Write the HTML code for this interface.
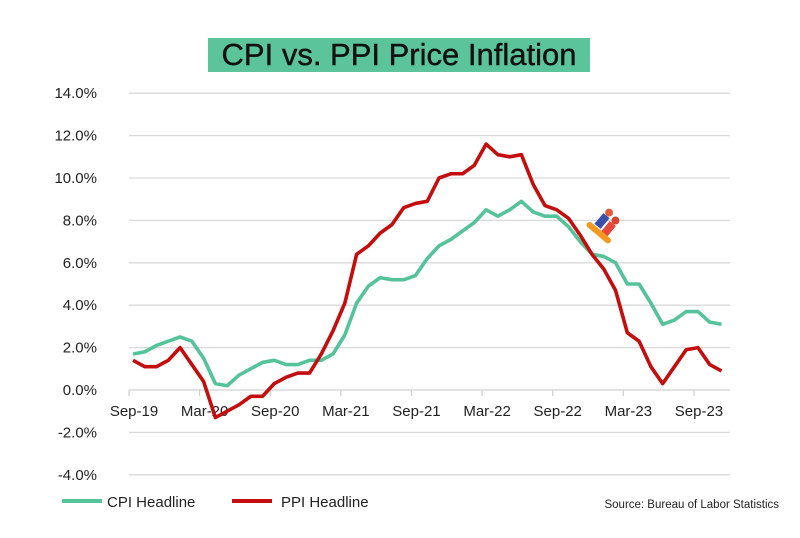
<!DOCTYPE html>
<html><head><meta charset="utf-8"><style>
body{margin:0;background:#fff;width:800px;height:533px;overflow:hidden;font-family:"Liberation Sans",sans-serif}
</style></head><body>
<svg width="800" height="533" xmlns="http://www.w3.org/2000/svg">
<rect x="208" y="38" width="382" height="34" fill="#5cc49b"/>
<text x="399" y="65" text-anchor="middle" font-size="31" fill="#111" stroke="#111" stroke-width="0.4" font-family="Liberation Sans, sans-serif">CPI vs. PPI Price Inflation</text>
<g id="grid"></g><g id="axis"></g><g id="series"></g>
<g transform="translate(598,232) rotate(40)">
<rect x="-14" y="-3" width="30" height="6" rx="3" fill="#f39a1e"/>
<rect x="-8" y="-18" width="8" height="14" fill="#3a4fa8"/>
<circle cx="-4" cy="-22" r="4" fill="#e35a3a"/>
<rect x="2" y="-16" width="8" height="13" fill="#e8483b"/>
<circle cx="6" cy="-20" r="4" fill="#d84434"/>
</g>
<line x1="62" y1="501" x2="102" y2="501" stroke="#55c39a" stroke-width="4"/>
<text x="107" y="507" font-size="15" fill="#222">CPI Headline</text>
<line x1="232" y1="501" x2="272" y2="501" stroke="#c40e0e" stroke-width="4"/>
<text x="281" y="507" font-size="15" fill="#222">PPI Headline</text>
<text x="779" y="508" text-anchor="end" font-size="11.5" fill="#222">Source: Bureau of Labor Statistics</text>
</svg>
<script>
const months = ["Sep-19","Oct-19","Nov-19","Dec-19","Jan-20","Feb-20","Mar-20","Apr-20","May-20","Jun-20","Jul-20","Aug-20","Sep-20","Oct-20","Nov-20","Dec-20","Jan-21","Feb-21","Mar-21","Apr-21","May-21","Jun-21","Jul-21","Aug-21","Sep-21","Oct-21","Nov-21","Dec-21","Jan-22","Feb-22","Mar-22","Apr-22","May-22","Jun-22","Jul-22","Aug-22","Sep-22","Oct-22","Nov-22","Dec-22","Jan-23","Feb-23","Mar-23","Apr-23","May-23","Jun-23","Jul-23","Aug-23","Sep-23","Oct-23","Nov-23"];
const cpi = [1.7,1.8,2.1,2.3,2.5,2.3,1.5,0.3,0.2,0.7,1.0,1.3,1.4,1.2,1.2,1.4,1.4,1.7,2.6,4.1,4.9,5.3,5.2,5.2,5.4,6.2,6.8,7.1,7.5,7.9,8.5,8.2,8.5,8.9,8.4,8.2,8.2,7.7,7.0,6.4,6.3,6.0,5.0,5.0,4.1,3.1,3.3,3.7,3.7,3.2,3.1];
const ppi = [1.4,1.1,1.1,1.4,2.0,1.2,0.4,-1.3,-1.0,-0.7,-0.3,-0.3,0.3,0.6,0.8,0.8,1.7,2.8,4.1,6.4,6.8,7.4,7.8,8.6,8.8,8.9,10.0,10.2,10.2,10.6,11.6,11.1,11.0,11.1,9.7,8.7,8.5,8.1,7.3,6.4,5.7,4.7,2.7,2.3,1.1,0.3,1.1,1.9,2.0,1.2,0.9];
const yTicks = [14,12,10,8,6,4,2,0,-2,-4];
const xLabels = ["Sep-19","Mar-20","Sep-20","Mar-21","Sep-21","Mar-22","Sep-22","Mar-23","Sep-23"];
const NS="http://www.w3.org/2000/svg";
const x0=133, dx=11.77, xL=129, xR=730;
const xs=i=>x0+i*dx;
const ys=v=>390-v*21.2;
function mk(t,a,p){const e=document.createElementNS(NS,t);for(const k in a)e.setAttribute(k,a[k]);p.appendChild(e);return e;}
const grid=document.getElementById('grid'), axis=document.getElementById('axis'), ser=document.getElementById('series');
yTicks.forEach(v=>{
  if(v!==0){const l=mk('line',{x1:xL,x2:xR,y1:ys(v),y2:ys(v),stroke:'#d9d9d9','stroke-width':1.3},grid);
  
  }
  const t=mk('text',{x:97,y:ys(v)+5,'text-anchor':'end','font-size':15,fill:'#222'},axis);
  t.textContent=v.toFixed(1)+'%';
  
  
});
const ax=mk('line',{x1:xL,x2:xR,y1:ys(0),y2:ys(0),stroke:'#d0d0d0','stroke-width':1.3},axis);


xLabels.forEach((lab,k)=>{
  const i=months.indexOf(lab);
  const tk=mk('line',{x1:xs(i)-4,x2:xs(i)-4,y1:390,y2:396,stroke:'#d0d0d0','stroke-width':1.3},axis);
  
  
  const t=mk('text',{x:xs(i)+1,y:416,'text-anchor':'middle','font-size':15,fill:'#222'},axis);
  t.textContent=lab;
  
  
});
function line(vals,color,name){
  const p=mk('polyline',{points:vals.map((v,i)=>xs(i)+','+ys(v)).join(' '),fill:'none',stroke:color,'stroke-width':3.6,'stroke-linejoin':'round'},ser);
  
  
}
line(cpi,'#55c39a','cpi-line');
line(ppi,'#c40e0e','ppi-line');
</script>
</body></html>
